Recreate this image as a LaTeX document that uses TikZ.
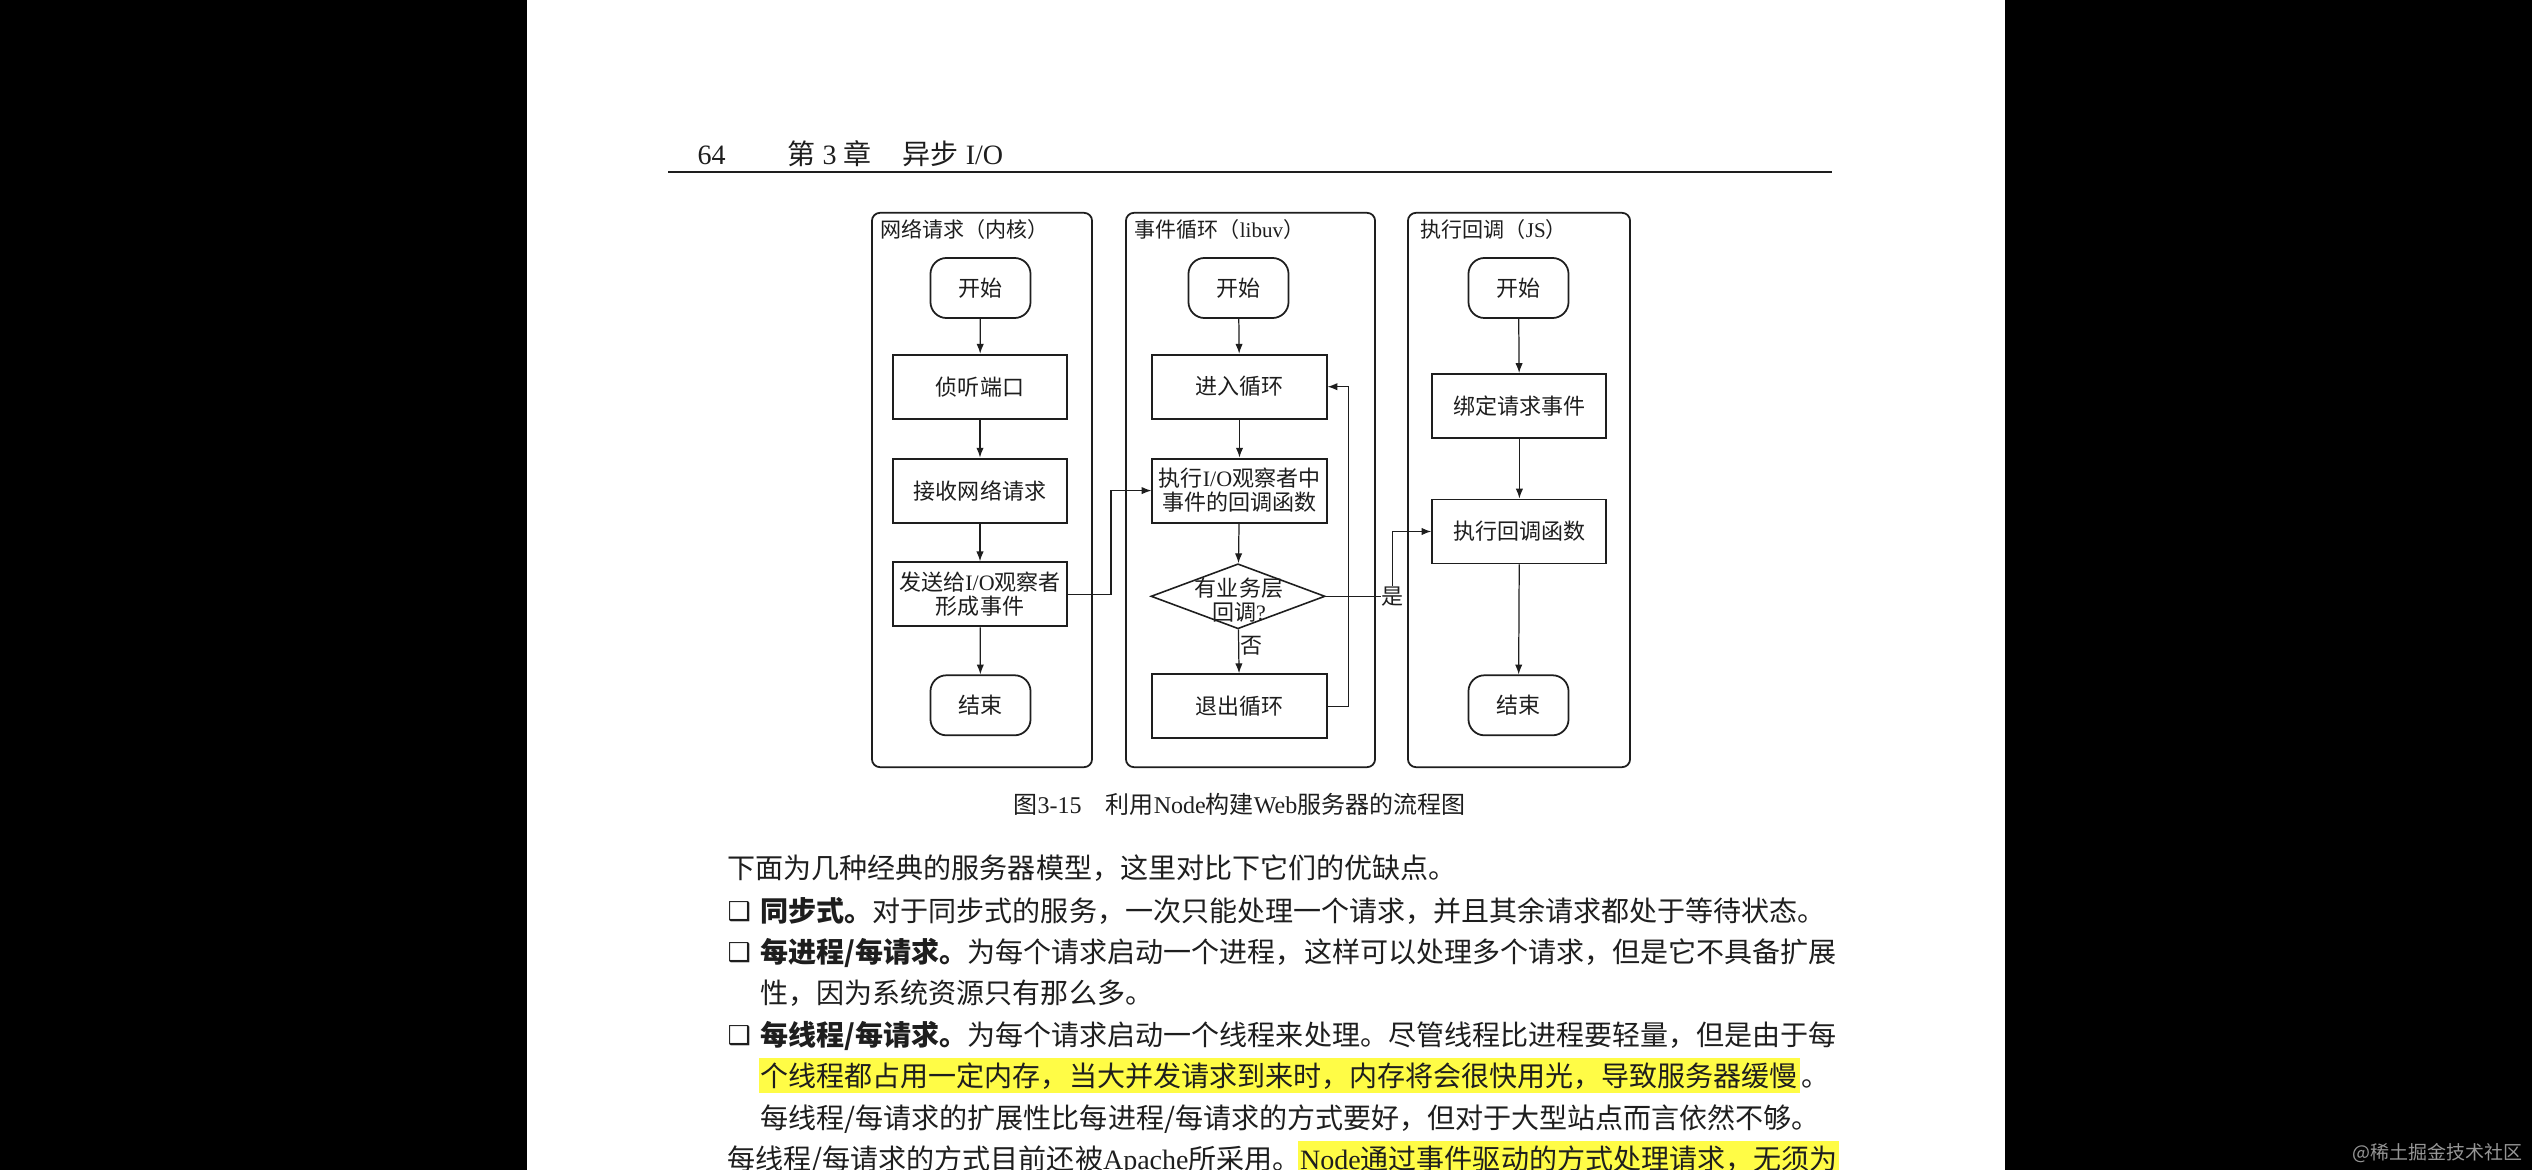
\documentclass[tikz,border=0pt]{standalone}
\usepackage{fontspec}
\setmainfont{Noto Sans CJK SC}
\newfontfamily\en{Liberation Serif}
\newfontfamily\sym{DejaVu Sans}
\usepackage{tikz}
\usetikzlibrary{shapes.geometric,arrows.meta,positioning}
\definecolor{inkgray}{RGB}{30,30,30}
\definecolor{marker}{RGB}{255,252,70}
\definecolor{wmgray}{RGB}{150,150,150}
\newcommand\bodyfont{\fontsize{7.97pt}{9pt}\selectfont}
\newcommand\boxfont{\fontsize{6.26pt}{6.83pt}\selectfont}
\newcommand\lanefont{\fontsize{5.98pt}{7pt}\selectfont}
\newcommand\capfont{\fontsize{6.83pt}{8pt}\selectfont}

\begin{document}
\begin{tikzpicture}[
      x=0.01cm, y=-0.01cm,
      every node/.style={text=inkgray},
      lane/.style={draw=inkgray, line width=0.5pt, rounded corners=0.08cm,
                   minimum height=5.54cm, inner sep=0},
      lanetitle/.style={anchor=base west, inner sep=0, font=\lanefont},
      terminal/.style={draw=inkgray, line width=0.5pt, rounded corners=0.16cm,
                       minimum width=1cm, minimum height=0.6cm, inner sep=0,
                       font=\boxfont},
      process/.style={draw=inkgray, line width=0.55pt, minimum width=1.74cm,
                      minimum height=0.64cm, inner sep=0, align=center,
                      font=\boxfont},
      decision/.style={diamond, draw=inkgray, line width=0.45pt,
                       minimum width=1.74cm, minimum height=0.65cm, inner sep=0},
      arr/.style={-{Latex[length=2.8pt, width=2.1pt]}, draw=inkgray,
                  line width=0.35pt},
      plain/.style={draw=inkgray, line width=0.35pt},
      flag/.style={inner sep=0.01cm, font=\boxfont},
      body/.style={anchor=base west, inner sep=0, font=\bodyfont},
      hl/.style={anchor=base west, inner xsep=0.02cm, inner ysep=0, fill=marker,
                 text height=0.28cm, text depth=0.07cm, font=\bodyfont},
      bullet/.style={anchor=base west, inner sep=0,
                     font=\sym\bfseries\fontsize{7.4pt}{8pt}\selectfont},
    ]
      \useasboundingbox (0,0) rectangle (2532,1170);
      \fill[black] (0,0) rectangle (2532,1170);
      \fill[white] (527,0) rectangle (2005,1170);

      % running head
      \node[body, font=\en\bodyfont] (pageno) at (697,165) {64};
      \node[body] (chap) at (787,165) {第{\en\ 3\ }章};
      \node[body] (chaptitle) at (902,165) {异步{\en\ I/O}};
      \draw[line width=0.55pt, inkgray] (668,172) -- (1832,172);

      % swim lanes
      \node[lane, minimum width=2.2cm] (kernel) at (982,490) {};
      \node[lane, minimum width=2.49cm] (evloop) at (1250.5,490) {};
      \node[lane, minimum width=2.22cm] (jsside) at (1519,490) {};
      \node[lanetitle] (kerneltitle) at (880,238) {网络请求（内核）};
      \node[lanetitle] (evlooptitle) at (1134,238) {事件循环（{\en libuv}）};
      \node[lanetitle] (jssidetitle) at (1420,238) {执行回调（{\en JS}）};

      % kernel lane
      \node[terminal] (kstart) at (980.5,288) {开始};
      \node[process] (listen) at (980,386.7) {侦听端口};
      \node[process] (accept) at (980,490.6) {接收网络请求};
      \node[process] (send) at (980,594.3) {发送给{\en I/O}观察者\\形成事件};
      \node[terminal] (kend) at (980.5,705.3) {结束};
      \draw[arr] (kstart) -- (listen);
      \draw[arr] (listen) -- (accept);
      \draw[arr] (accept) -- (send);
      \draw[arr] (send) -- (kend);

      % libuv lane
      \node[terminal] (lstart) at (1238.5,288) {开始};
      \node[process] (enter) at (1239.5,386.7) {进入循环};
      \node[process] (runio) at (1239.5,490.6)
            {执行{\en I/O}观察者中\\事件的回调函数};
      \node[decision] (check) at (1238,596.3) {};
      \node[flag, align=center] (checktext) at (1239,600)
            {有业务层\\回调{\en ?}};
      \node[process] (leave) at (1239.5,706.2) {退出循环};
      \draw[arr] (lstart) -- (enter);
      \draw[arr] (enter) -- (runio);
      \draw[arr] (runio) -- (check);
      \draw[arr] (check) -- (leave)
            node[flag, pos=0.38, right] (no) {否};
      \draw[arr] (leave.east) -- ++(21,0) |- (enter.east);
      \draw[arr] (send.east) -- ++(43,0) |- (runio.west);

      % JS lane
      \node[terminal] (jstart) at (1518.5,288) {开始};
      \node[process] (bind) at (1519.4,406) {绑定请求事件};
      \node[process] (callback) at (1519.4,531.5) {执行回调函数};
      \node[terminal] (jend) at (1518.5,705.3) {结束};
      \draw[arr] (jstart) -- (bind);
      \draw[arr] (bind) -- (callback);
      \draw[arr] (callback) -- (jend);
      \draw[plain] (check.east) -- ++(67,0) coordinate (yescorner);
      \draw[arr] (yescorner) |- (callback.west);
      \node[flag, fill=white] (yes) at (yescorner) {是};

      % caption
      \node[anchor=base west, inner sep=0, font=\capfont] (caption) at (1013,813)
            {图{\en 3-15}　利用{\en Node}构建{\en Web}服务器的流程图};

      % body text
      \node[body] (l1) at (727,878)
            {下面为几种经典的服务器模型，这里对比下它们的优缺点。};
      \node[bullet] (b2) at (727,920) {❑};
      \node[body] (l2) at (760,921)
            {{\bfseries 同步式。}对于同步式的服务，一次只能处理一个请求，并且其余请求都处于等待状态。};
      \node[bullet] (b3) at (727,961) {❑};
      \node[body] (l3) at (760,962)
            {{\bfseries 每进程/每请求。}为每个请求启动一个进程，这样可以处理多个请求，但是它不具备扩展};
      \node[body] (l4) at (760,1003) {性，因为系统资源只有那么多。};
      \node[bullet] (b5) at (727,1044) {❑};
      \node[body] (l5) at (760,1045)
            {{\bfseries 每线程/每请求。}为每个请求启动一个线程来处理。尽管线程比进程要轻量，但是由于每};
      \node[hl] (l6) at (758,1086)
            {个线程都占用一定内存，当大并发请求到来时，内存将会很快用光，导致服务器缓慢};
      \node[body] (l6end) at (l6.base east) {。};
      \node[body] (l7) at (760,1128)
            {每线程/每请求的扩展性比每进程/每请求的方式要好，但对于大型站点而言依然不够。};
      \node[body] (l8) at (727,1169)
            {每线程/每请求的方式目前还被{\en Apache}所采用。};
      \node[hl, xshift=-0.04cm] (l8mark) at (l8.base east)
            {{\en Node}通过事件驱动的方式处理请求，无须为};

      % watermark
      \node[anchor=base east, inner sep=0, text=wmgray,
            font=\fontsize{5.4pt}{6pt}\selectfont] (wm) at (2523,1159)
            {@稀土掘金技术社区};
    \end{tikzpicture}
\end{document}
